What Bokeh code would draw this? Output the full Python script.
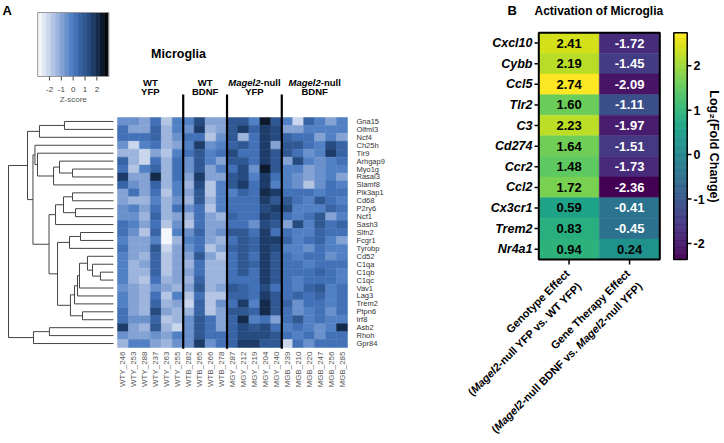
import numpy as np
from bokeh.plotting import figure
from bokeh.models import Range1d, LinearColorMapper, ColumnDataSource
from bokeh.transform import transform
from bokeh.palettes import Viridis256
from bokeh.embed import file_html
from bokeh.resources import INLINE
from bokeh.core.properties import value

# ---------------- data: panel A ----------------
samples = ["WTY_246", "WTY_253", "WTY_288", "WTY_237", "WTY_263", "WTY_255",
           "WTB_282", "WTB_265", "WTB_266", "WTB_278",
           "MGY_287", "MGY_212", "MGY_219", "MGY_204", "MGY_240",
           "MGB_239", "MGB_210", "MGB_220", "MGB_247", "MGB_256", "MGB_285"]
genes_a = ["Gna15", "Olfml3", "Ncf4", "Ch25h", "Tlr9", "Arhgap9", "Myo1g", "Rasal3",
           "Slamf8", "Pik3ap1", "Cd68", "P2ry6", "Ncf1", "Sash3", "Slfn2", "Fcgr1",
           "Tyrobp", "Cd52", "C1qa", "C1qb", "C1qc", "Vav1", "Lag3", "Trem2", "Ptpn6",
           "Irf8", "Asb2", "Rhoh", "Gpr84"]
group_line1 = [[("WT", "bold")], [("WT", "bold")],
               [("Magel2", "bold italic"), ("-null", "bold")],
               [("Magel2", "bold italic"), ("-null", "bold")]]
group_line2 = ["YFP", "BDNF", "YFP", "BDNF"]

wt_yfp = [
    [-0.5, -0.5, -1.1, 0.3, -1.8, -0.3], [0.3, -1.0, -1.0, 0.7, -1.5, -0.3],
    [0.2, 0.2, 0.2, 0.6, -1.2, -0.5], [-0.6, -2.0, -0.3, 0.0, -1.3, -0.8],
    [-1.3, -1.2, -2.0, -1.0, -1.8, -0.2], [0.5, -1.3, -2.0, 0.0, -1.5, 0.1],
    [0.2, -1.8, -0.1, 0.6, -1.5, 0.1], [1.5, -1.0, -0.8, 2.0, -1.2, 0.0],
    [0.4, -0.6, -1.0, 0.6, -1.2, -0.3], [-0.8, 0.0, -1.0, 0.2, -1.8, -0.3],
    [-1.0, -1.5, -1.2, -0.3, -1.3, -0.4], [-0.4, -0.3, -1.0, 0.1, -1.5, 0.3],
    [-0.5, -0.6, -1.3, 0.5, -1.4, -1.0], [0.1, -0.3, -1.0, 0.3, -1.6, -0.6],
    [0.2, -0.6, -1.7, 0.5, -3.0, -0.3], [-0.3, -1.0, -1.0, -0.2, -2.9, -1.2],
    [0.2, -1.0, -1.0, 0.8, -2.0, -1.0], [-0.2, -1.0, -1.2, 0.7, -1.7, -1.0],
    [-0.2, -1.2, -1.0, 0.6, -1.6, -1.1], [-0.3, -1.3, -1.5, 0.6, -1.7, -1.1],
    [-0.2, -1.3, -1.6, 0.3, -1.3, -1.0], [-0.4, -1.0, -1.2, -0.4, -1.0, -1.2],
    [-0.3, -0.8, -1.3, 0.2, -1.6, -0.3], [-0.3, -0.9, -1.2, 0.6, -1.2, -1.0],
    [0.2, -1.0, -1.2, 1.2, -1.0, -1.2], [0.2, -0.5, -0.7, 0.6, -1.6, -1.3],
    [1.5, -1.0, -1.3, 0.9, -1.2, -2.2], [-0.5, -1.1, -1.1, -0.4, -1.1, -0.3],
    [-1.2, -0.3, -0.3, -0.8, -1.2, -0.6]]
wt_bdnf = [
    [-0.3, 1.4, -0.9, -1.1], [-0.7, 1.6, -1.5, -1.1], [0.3, 0.3, -1.8, -0.4],
    [-0.3, 1.7, -0.7, -0.3], [0.0, 0.8, -0.2, 0.0], [-0.4, 0.8, -0.2, -1.0],
    [-0.5, 0.8, -0.8, -0.2], [-1.0, 1.6, -0.8, -1.0], [-1.2, 1.3, -1.6, -0.3],
    [-1.1, 0.9, -1.6, -0.2], [-1.2, 0.9, -1.2, -0.2], [-0.6, 0.0, -1.7, -0.2],
    [-1.2, 0.2, -0.8, -1.3], [-1.7, 0.2, -1.0, -1.1], [-0.4, 0.7, -1.0, -0.4],
    [-0.3, 0.3, -0.8, -1.2], [-0.5, 0.3, -1.6, -0.9], [-1.0, 0.8, -1.0, -1.6],
    [-1.2, 0.3, -1.5, -1.2], [-1.0, 0.0, -1.3, -1.3], [-1.2, 0.4, -1.3, -1.3],
    [-0.8, 1.0, -1.5, -1.0], [-1.7, 0.3, -1.7, -1.6], [-2.0, 0.6, -1.6, -0.5],
    [-1.2, 0.7, -1.6, -1.0], [-0.5, 0.8, 0.3, -1.0], [-0.5, 0.8, 0.3, -0.8],
    [-0.7, 0.8, 0.2, 0.0], [-0.5, 1.5, -0.4, 0.3]]
mg_yfp = [
    [0.8, 0.8, -0.3, 2.6, 1.0], [1.1, 1.7, 0.7, 1.8, 1.2], [1.0, -1.2, 0.0, 1.8, 1.2],
    [0.6, 1.1, 0.0, 1.5, -1.0], [1.3, 0.2, 0.2, 1.5, 0.8], [1.0, 0.8, 0.2, 1.6, 0.8],
    [0.0, 1.3, -0.6, 2.6, 0.8], [0.8, 1.2, -0.2, 1.6, 0.2], [1.0, 1.5, 0.2, 1.8, -0.3],
    [-0.2, 0.6, 0.2, 1.9, 1.6], [0.0, 0.2, 0.2, 1.6, 1.0], [0.2, 0.2, 0.2, 1.3, 1.6],
    [0.4, 0.2, 0.0, 1.5, 1.2], [0.3, 0.2, -0.6, 1.4, 1.0], [0.9, 0.9, 0.3, 1.7, 0.3],
    [0.3, 0.9, 0.4, 1.6, 1.6], [0.5, 1.0, 0.4, 1.8, 1.2], [0.3, 0.8, 0.3, 1.6, 1.1],
    [0.2, 0.8, 0.4, 1.5, 1.0], [0.2, 0.9, 0.2, 1.7, 1.0], [0.2, 0.3, 0.2, 1.8, 1.1],
    [1.0, 0.6, 0.3, 1.4, 0.3], [0.4, 0.6, 0.2, 1.6, 0.8], [0.3, 1.5, -0.3, 2.0, 0.8],
    [1.0, 0.8, 0.4, 2.0, 0.8], [0.7, 2.2, -0.3, 0.3, -1.0], [0.6, 1.3, 0.8, 1.4, 0.2],
    [0.4, 1.4, 1.2, 1.3, 1.0], [0.5, 1.5, 1.5, 0.9, 0.9]]
mg_bdnf = [
    [-0.3, -1.9, 0.6, -0.3, -0.9, -0.3], [-0.9, -0.9, -0.3, -0.1, -0.2, -0.3],
    [0.6, 0.2, 0.2, -0.9, -0.2, -1.0], [1.0, 1.0, 0.3, -0.2, 1.3, 0.7],
    [0.8, 0.0, -0.6, -0.3, 1.5, 0.6], [-0.9, 1.2, -0.2, -0.4, -0.2, 0.0],
    [-0.3, -0.3, -0.8, -0.4, -0.1, -0.2], [-0.3, -0.7, -0.8, -0.5, -0.1, -0.8],
    [-0.3, -0.5, -1.7, -0.6, 0.2, -0.2], [0.2, 0.3, 0.2, -0.3, 0.3, 0.0],
    [0.8, 0.3, -0.2, 0.9, 0.0, -0.2], [1.4, -0.2, -0.2, -0.3, 0.6, 0.2],
    [0.1, -0.2, 0.2, 0.8, -0.9, -0.3], [-0.8, 1.2, -0.3, 0.9, 0.0, 0.4],
    [0.0, -0.3, -0.3, 0.6, 0.2, 0.2], [0.6, -0.2, 0.0, 0.7, -0.3, -1.0],
    [-0.2, -0.3, -0.6, 0.0, -0.3, -0.3], [0.3, -0.2, 0.0, 0.0, -0.7, -0.2],
    [0.3, 0.3, -0.2, 0.3, 0.3, 0.0], [0.3, 0.3, 0.2, 0.5, 0.3, -0.2],
    [0.3, -0.3, 0.2, 0.3, 0.3, -0.3], [0.3, -0.3, 0.4, 1.0, -0.2, 0.3],
    [0.3, 0.7, 0.2, 0.5, -0.2, 0.3], [0.6, -0.6, 0.3, 0.2, -0.3, 0.2],
    [0.3, -0.5, -0.2, 0.3, -0.4, 0.0], [0.2, 0.9, -0.2, 0.3, -0.3, -0.3],
    [-0.3, 0.3, -0.3, -0.5, -0.2, 2.0], [0.3, -0.3, 0.3, -0.6, 0.3, 0.0],
    [-2.0, 0.3, -0.6, 0.2, 0.3, 0.2]]

zkey_ticks = [-2, -1, 0, 1, 2]
# dendrogram merges: (name, child, child, height as fraction of root height)
dendro_merges = [
    ("a", 0, 1, 0.467), ("b", "a", 2, 0.705),
    ("R", 6, 7, 0.390), ("Q", 5, "R", 0.514), ("P", "Q", 8, 0.571),
    ("N1", 4, "P", 0.724), ("N2", 3, "N1", 0.748),
    ("E1", 9, 10, 0.390), ("E2", 11, 12, 0.362), ("E3", "E1", "E2", 0.476),
    ("E", "E3", 13, 0.552),
    ("G0", 14, 15, 0.314), ("G", "G0", 16, 0.419),
    ("J1", 19, 20, 0.124), ("J2", 18, "J1", 0.200), ("J3", 17, "J2", 0.248),
    ("J4", "J3", 21, 0.324), ("J5", "J4", 22, 0.343), ("J6", "J5", 23, 0.371),
    ("I", 24, 25, 0.295), ("H", "J6", "I", 0.410), ("F", "G", "H", 0.533),
    ("D", "E", "F", 0.614), ("C", "N2", "D", 0.767), ("X", "b", "C", 0.819),
    ("Y1", 26, 27, 0.610), ("Y", "Y1", 28, 0.762), ("root", "X", "Y", 1.0)]

# ---------------- data: panel B ----------------
genes_b = ["Cxcl10", "Cybb", "Ccl5", "Tlr2", "C3", "Cd274", "Ccr2", "Ccl2", "Cx3cr1", "Trem2", "Nr4a1"]
genotype_effect = [2.41, 2.19, 2.74, 1.60, 2.23, 1.64, 1.48, 1.72, 0.59, 0.83, 0.94]
therapy_effect = [-1.72, -1.45, -2.09, -1.11, -1.97, -1.51, -1.73, -2.36, -0.41, -0.45, 0.24]
effect_line1 = ["Genotype Effect", "Gene Therapy Effect"]
effect_line2 = [[("(", "bold"), ("Magel2", "bold italic"), ("-null YFP vs. WT YFP)", "bold")],
                [("(", "bold"), ("Magel2", "bold italic"), ("-null BDNF vs. ", "bold"),
                 ("Magel2", "bold italic"), ("-null YFP)", "bold")]]
cb_ticks = [-2, -1, 0, 1, 2]

# ---------------- helpers ----------------
FONT = value("Liberation Sans")
BW = {' ': 278, '(': 333, ')': 333, '-': 333, '.': 278, '_': 556}
BW.update({d: 556 for d in "0123456789"})
BW.update(dict(zip("ABCDEFGHIJKLMNOPQRSTUVWXYZ",
                   [722, 722, 722, 722, 667, 611, 778, 722, 278, 556, 722, 611, 833, 722, 778,
                    667, 778, 722, 667, 611, 722, 667, 944, 667, 667, 611])))
BW.update(dict(zip("abcdefghijklmnopqrstuvwxyz",
                   [556, 611, 556, 611, 556, 333, 611, 611, 278, 278, 556, 278, 889, 611, 611,
                    611, 611, 389, 556, 333, 611, 556, 778, 556, 556, 500])))


def tw(s, size):
    return sum(BW.get(c, 556) for c in s) / 1000.0 * size


W, H, L, T = 720, 436, 0, 0
CW, RH, HX0, HY0 = 230 / 21, 230 / 29, 117.0, 117.0
BCW, BRH, BX0, BY0 = 60.5, 20.61, 538.3, 32.3


def ax(px): return (px - HX0) / CW
def ay(py): return (py - HY0) / RH
def bx(px): return (px - BX0) / BCW
def by(py): return (py - BY0) / BRH
def xr(f): return Range1d(f(L), f(L + W))
def yr(f): return Range1d(f(T + H), f(T))


cb_lo = min(genotype_effect + therapy_effect)
cb_hi = max(genotype_effect + therapy_effect)
cb_ppu = (259.0 - BY0) / (cb_hi - cb_lo)

p = figure(width=W, height=H, x_range=xr(ax), y_range=yr(ay), output_backend="svg",
           toolbar_location=None, min_border=0, x_axis_location=None, y_axis_location=None)
p.grid.visible = False
p.outline_line_color = None
p.extra_x_ranges = {"dend": xr(lambda px: (113.0 - px) / 105.0),
                    "zkey": xr(lambda px: (px - 72.7) / 11.83),
                    "bx": xr(bx)}
p.extra_y_ranges = {"by": yr(by), "cb": yr(lambda py: cb_hi - (py - BY0) / cb_ppu)}

# ---------------- panel A heatmap ----------------
Z = np.hstack([np.array(wt_yfp), np.array(wt_bdnf), np.array(mg_yfp), np.array(mg_bdnf)])
nr, nc = Z.shape
anch_z = [-3, -1.5, 0, 1.5, 3]
anch_c = [(255, 255, 255), (169, 189, 224), (70, 119, 192), (34, 69, 120), (0, 0, 0)]
centers = -3 + 6 / 16 * (np.arange(16) + 0.5)
pal = []
for zc in centers:
    rgb = [int(round(np.interp(zc, anch_z, [c[k] for c in anch_c]))) for k in range(3)]
    pal.append("#%02x%02x%02x" % tuple(rgb))
mapA = LinearColorMapper(palette=pal, low=-3, high=3)
rr, cc = np.meshgrid(np.arange(nr), np.arange(nc), indexing="ij")
srcA = ColumnDataSource(dict(x=(cc + 0.5).ravel(), y=(rr + 0.5).ravel(), z=Z.ravel()))
p.rect(x="x", y="y", width=1, height=1, source=srcA, fill_color=transform("z", mapA),
       line_color=transform("z", mapA), line_width=0.5)

sizes = [len(wt_yfp[0]), len(wt_bdnf[0]), len(mg_yfp[0]), len(mg_bdnf[0])]
edges = np.cumsum([0] + sizes)
p.segment(x0=edges[1:-1], y0=ay(94), x1=edges[1:-1], y1=nr + 0.15, line_color="black", line_width=2.2)

HF = 9.5
for gi in range(4):
    cx_px = HX0 + (edges[gi] + sizes[gi] / 2) * CW
    segs = group_line1[gi]
    total = sum(tw(s, HF) for s, _ in segs)
    cur = cx_px - total / 2
    for s, st in segs:
        p.text(x=[ax(cur)], y=[ay(82)], text=[s], text_font=FONT, text_font_size=f"{HF}px",
               text_font_style=st, text_align="left", text_baseline="middle", text_color="black")
        cur += tw(s, HF)
    p.text(x=[ax(cx_px)], y=[ay(91)], text=[group_line2[gi]], text_font=FONT, text_font_size=f"{HF}px",
           text_font_style="bold", text_align="center", text_baseline="middle", text_color="black")

p.text(x=[ax(356)] * nr, y=list(np.arange(nr) + 0.5), text=genes_a, text_font=FONT,
       text_font_size="7.5px", text_align="left", text_baseline="middle", text_color="#333333")
p.text(x=list(np.arange(nc) + 0.5), y=[ay(351)] * nc, text=samples, text_font=FONT,
       text_font_size="8px", text_align="right", text_baseline="middle", text_color="#555555",
       angle=np.pi / 2)

# dendrogram
pos = {i: (0.0, i + 0.5) for i in range(nr)}
dx0, dy0, dx1, dy1 = [], [], [], []
for name, c1, c2, h in dendro_merges:
    (h1, y1), (h2, y2) = pos[c1], pos[c2]
    dx0 += [h, h, h]; dy0 += [y1, y1, y2]
    dx1 += [h, h1, h2]; dy1 += [y2, y1, y2]
    pos[name] = (h, (y1 + y2) / 2)
p.segment(x0=dx0, y0=dy0, x1=dx1, y1=dy1, x_range_name="dend", line_color="#444444", line_width=1)

# z-score key
kedges = np.linspace(-3, 3, len(pal) + 1)
p.quad(left=kedges[:-1], right=kedges[1:], top=ay(12), bottom=ay(76), fill_color=pal,
       line_color=pal, line_width=0.5, x_range_name="zkey")
p.quad(left=[-3], right=[3], top=ay(12), bottom=ay(76), fill_color=None, line_color="#999999",
       line_width=1, x_range_name="zkey")
p.segment(x0=zkey_ticks, y0=ay(76), x1=zkey_ticks, y1=ay(80), line_color="#444444", x_range_name="zkey")
p.text(x=zkey_ticks, y=[ay(89)] * 5, text=[str(t) for t in zkey_ticks], text_font=FONT,
       text_font_size="8px", text_align="center", text_baseline="middle", text_color="#444444",
       x_range_name="zkey")
p.text(x=[0], y=[ay(99)], text=["Z-score"], text_font=FONT, text_font_size="8px",
       text_align="center", text_baseline="middle", text_color="#555555", x_range_name="zkey")

p.text(x=[ax(178)], y=[ay(53)], text=["Microglia"], text_font=FONT, text_font_size="12.5px",
       text_font_style="bold", text_align="center", text_baseline="middle", text_color="black")
p.text(x=[ax(2)], y=[ay(2.5)], text=["A"], text_font=FONT, text_font_size="13px",
       text_font_style="bold", text_align="left", text_baseline="top", text_color="black")

# ---------------- panel B ----------------
nb = len(genes_b)
vals = genotype_effect + therapy_effect
mapB = LinearColorMapper(palette=Viridis256, low=cb_lo, high=cb_hi)
srcB = ColumnDataSource(dict(
    x=[0.5] * nb + [1.5] * nb, y=list(np.arange(nb) + 0.5) * 2, v=vals,
    lab=[f"{v:.2f}" for v in vals], tc=["black" if v > 0 else "white" for v in vals]))
p.rect(x="x", y="y", width=1, height=1, source=srcB, fill_color=transform("v", mapB),
       line_color=transform("v", mapB), line_width=0.5, x_range_name="bx", y_range_name="by")
p.text(x="x", y="y", text="lab", source=srcB, text_color="tc", text_font=FONT, text_font_size="13px",
       text_font_style="bold", text_align="center", text_baseline="middle",
       x_range_name="bx", y_range_name="by")
p.rect(x=[1], y=[nb / 2], width=2, height=nb, fill_color=None, line_color="black", line_width=2,
       x_range_name="bx", y_range_name="by")
rows_b = list(np.arange(nb) + 0.5)
p.segment(x0=[bx(534)] * nb, y0=rows_b, x1=[0] * nb, y1=rows_b, line_color="black", line_width=1.5,
          x_range_name="bx", y_range_name="by")
p.text(x=[bx(532)] * nb, y=rows_b, text=genes_b, text_font=FONT, text_font_size="12.5px",
       text_font_style="bold italic", text_align="right", text_baseline="middle", text_color="black",
       x_range_name="bx", y_range_name="by")
p.segment(x0=[0.5, 1.5], y0=[nb] * 2, x1=[0.5, 1.5], y1=[by(264)] * 2, line_color="black",
          line_width=1.5, x_range_name="bx", y_range_name="by")

# rotated x labels
u = np.array([np.cos(np.pi / 4), -np.sin(np.pi / 4)])
XF = 11
for ci in range(2):
    xt = BX0 + (ci + 0.5) * BCW
    e1 = np.array([xt - 1.5, 271.0])
    p.text(x=[bx(e1[0])], y=[by(e1[1])], text=[effect_line1[ci]], text_font=FONT,
           text_font_size=f"{XF}px", text_font_style="bold", text_align="right",
           text_baseline="middle", angle=np.pi / 4, text_color="black",
           x_range_name="bx", y_range_name="by")
    cur = np.array([xt + 10.5, 283.5])
    for s, st in reversed(effect_line2[ci]):
        p.text(x=[bx(cur[0])], y=[by(cur[1])], text=[s], text_font=FONT,
               text_font_size=f"{XF}px", text_font_style=st, text_align="right",
               text_baseline="middle", angle=np.pi / 4, text_color="black",
               x_range_name="bx", y_range_name="by")
        cur = cur - tw(s, XF) * u

# colorbar
cbe = np.linspace(cb_lo, cb_hi, len(Viridis256) + 1)
cl, cr = bx(673.3), bx(686.7)
p.quad(left=cl, right=cr, bottom=cbe[:-1], top=cbe[1:], fill_color=list(Viridis256),
       line_color=list(Viridis256), line_width=0.5, x_range_name="bx", y_range_name="cb")
p.quad(left=[cl], right=[cr], bottom=[cb_lo], top=[cb_hi], fill_color=None, line_color="black",
       line_width=1.5, x_range_name="bx", y_range_name="cb")
p.segment(x0=[cr] * 5, y0=cb_ticks, x1=[bx(691)] * 5, y1=cb_ticks, line_color="black",
          line_width=1.5, x_range_name="bx", y_range_name="cb")
p.text(x=[bx(693)] * 5, y=cb_ticks, text=[str(t) for t in cb_ticks], text_font=FONT,
       text_font_size="12.5px", text_font_style="bold", text_align="left", text_baseline="middle",
       text_color="black", x_range_name="bx", y_range_name="cb")
p.text(x=[bx(713)], y=[by(146)], text=["Log\u2082(Fold Change)"], text_font=FONT,
       text_font_size="12.5px", text_font_style="bold", text_align="center", text_baseline="middle",
       angle=-np.pi / 2, text_color="black", x_range_name="bx", y_range_name="by")

p.text(x=[bx(598.3)], y=[by(3)], text=["Activation of Microglia"], text_font=FONT,
       text_font_size="12px", text_font_style="bold", text_align="center", text_baseline="top",
       text_color="black", x_range_name="bx", y_range_name="by")
p.text(x=[bx(507)], y=[by(2.5)], text=["B"], text_font=FONT, text_font_size="13px",
       text_font_style="bold", text_align="left", text_baseline="top", text_color="black",
       x_range_name="bx", y_range_name="by")

open("out.html", "w").write(file_html(p, INLINE))
